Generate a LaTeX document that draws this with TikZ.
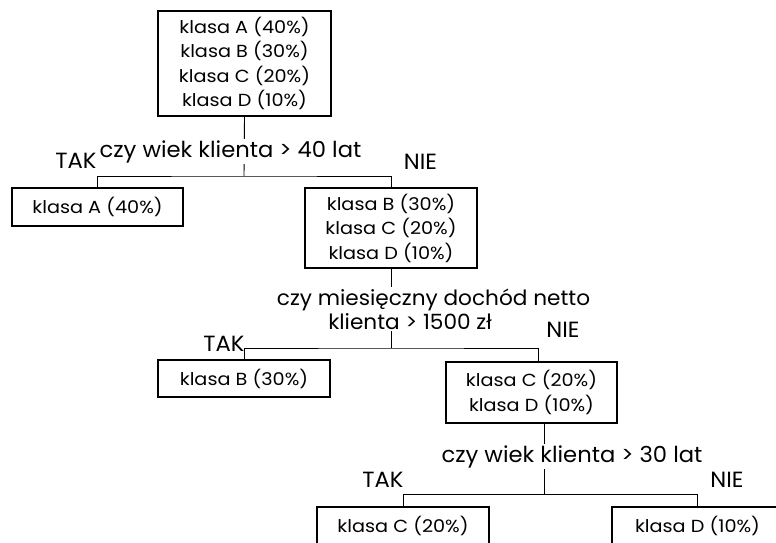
\documentclass[tikz,border=0pt]{standalone}
\usepackage{fontspec}
\setmainfont{Poppins}
\newfontfamily\boxfont[FakeStretch=1.1]{Poppins}
\newfontfamily\labfont[FakeStretch=1.03]{Poppins}
\begin{document}
\begin{tikzpicture}[x=1pt,y=-1pt,
  box/.style={draw, line width=1.1pt, align=center, inner sep=0pt,
              font=\boxfont\fontsize{17.5}{24.5}\selectfont},
  cond/.style={fill=white, inner sep=1.5pt, anchor=base,
               font=\labfont\fontsize{22}{25}\selectfont},
  ans/.style={inner sep=0pt, anchor=base, font=\labfont\fontsize{22}{25}\selectfont},
  link/.style={line width=0.9pt}]
\useasboundingbox (0,0) rectangle (776,542);
\begin{scope}
\clip (0,0) rectangle (776,542);

% class boxes
\node[box, minimum width=173, minimum height=105] (root) at (244.5,63.5)
  {klasa A (40\%)\\klasa B (30\%)\\klasa C (20\%)\\klasa D (10\%)};
\node[box, minimum width=171, minimum height=38] (A) at (97.5,207) {klasa A (40\%)};
\node[box, minimum width=172, minimum height=80] (BCD) at (391,228)
  {klasa B (30\%)\\klasa C (20\%)\\klasa D (10\%)};
\node[box, minimum width=172, minimum height=37] (B) at (244,378.5) {klasa B (30\%)};
\node[box, minimum width=171, minimum height=61] (CD) at (531.5,392.5)
  {klasa C (20\%)\\klasa D (10\%)};
\node[box, minimum width=172, minimum height=38] (C) at (403,526) {klasa C (20\%)};
\node[box, minimum width=171, minimum height=38] (D) at (697.5,526) {klasa D (10\%)};

% branch junctions
\coordinate (j1) at (244,176);
\coordinate (j2) at (391,348);
\coordinate (j3) at (544,494);

% connectors
\draw[link] (root.south) -- (j1);
\draw[link] (A.north) |- (j1) -| (BCD.north);
\draw[link] (BCD.south) -- (j2);
\draw[link] (B.north) |- (j2) -| ([xshift=6.5pt]CD.north);
\draw[link] ([xshift=12.5pt]CD.south) -- (j3);
\draw[link] (C.north) |- (j3) -| (D.north);

% split conditions
\node[cond] (q1) at (230.5,157) {czy wiek klienta > 40 lat};
\node[cond, font=\labfont\fontsize{21}{25}\selectfont] (q2a) at (433.5,305)
  {czy miesięczny dochód netto};
\node[cond, font=\labfont\fontsize{21}{25}\selectfont] (q2b) at (410,329)
  {klienta > 1500 zł};
\node[cond] (q3) at (572,462) {czy wiek klienta > 30 lat};

% branch answers
\node[ans] (t1) at (76,168) {TAK};
\node[ans] (n1) at (420.5,169) {NIE};
\node[ans] (t2) at (224,351) {TAK};
\node[ans] (n2) at (563,337) {NIE};
\node[ans] (t3) at (383,487) {TAK};
\node[ans] (n3) at (727,487) {NIE};
\end{scope}
\end{tikzpicture}
\end{document}
